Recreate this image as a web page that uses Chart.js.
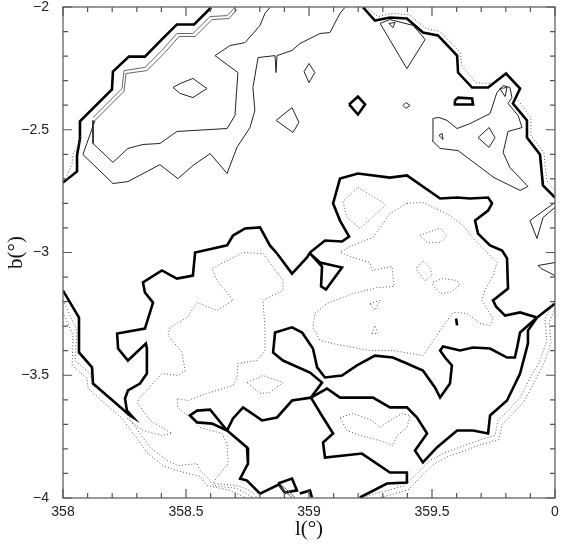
<!DOCTYPE html>
<html lang="en">
<head>
    <meta charset="UTF-8">
    <title>Contour map l-b</title>
    <script src="https://cdn.jsdelivr.net/npm/chart.js"></script>
    <style>
        body { margin: 0; background: #fff; }
        .container { width: 570px; height: 544px; }
    </style>
</head>
<body>
    <div class="container">
        <canvas id="contour-chart"></canvas>
    </div>

    <script>
        // axis ticks
        const xTickValues = [358, 358.5, 359, 359.5, 360];
        const xTickLabels = ['358', '358.5', '359', '359.5', '0'];
        const yTickValues = [-4, -3.5, -3, -2.5, -2];
        const yTickLabels = ['\u22124', '\u22123.5', '\u22123', '\u22122.5', '\u22122'];

        // contour paths, [l, b] in degrees
        // thick contours
        const edgeNorthWest = [[358.000,-2.715],[358.057,-2.670],[358.057,-2.605],[358.069,-2.536],[358.069,-2.466],[358.199,-2.336],[358.203,-2.263],[358.268,-2.202],[358.333,-2.202],[358.402,-2.132],[358.463,-2.071],[358.533,-2.071],[358.602,-2.002]];
        const edgeNorthEast = [[359.220,-2.002],[359.268,-2.055],[359.329,-2.043],[359.398,-2.047],[359.463,-2.104],[359.524,-2.116],[359.602,-2.198],[359.606,-2.267],[359.663,-2.328],[359.728,-2.328],[359.801,-2.271],[359.858,-2.332],[359.829,-2.393],[359.886,-2.462],[359.886,-2.532],[359.939,-2.601],[359.951,-2.727],[360.000,-2.776]];
        const thickDiamond = [[359.163,-2.397],[359.199,-2.365],[359.228,-2.397],[359.199,-2.438],[359.163,-2.397]];
        const thickBar = [[359.593,-2.381],[359.606,-2.369],[359.663,-2.373],[359.667,-2.397],[359.593,-2.397],[359.593,-2.381]];
        const mainRidge = [[358.000,-3.155],[358.065,-3.265],[358.065,-3.407],[358.118,-3.468],[358.122,-3.534],[358.272,-3.664],[358.285,-3.672],[358.260,-3.644],[358.252,-3.595],[358.264,-3.562],[358.313,-3.534],[358.341,-3.493],[358.341,-3.391],[358.337,-3.371],[358.264,-3.440],[358.224,-3.391],[358.220,-3.330],[358.333,-3.310],[358.366,-3.204],[358.333,-3.163],[358.325,-3.122],[358.402,-3.073],[358.463,-3.106],[358.528,-3.094],[358.537,-3.000],[358.610,-2.984],[358.667,-2.971],[358.691,-2.931],[358.740,-2.902],[358.801,-2.898],[358.841,-2.971],[358.870,-3.004],[358.931,-3.086],[358.992,-3.020],[359.004,-3.000],[359.065,-2.951],[359.134,-2.955],[359.163,-2.935],[359.126,-2.870],[359.098,-2.800],[359.126,-2.699],[359.199,-2.678],[359.329,-2.695],[359.398,-2.686],[359.533,-2.780],[359.602,-2.776],[359.654,-2.780],[359.728,-2.776],[359.744,-2.800],[359.728,-2.829],[359.675,-2.870],[359.687,-2.923],[359.736,-2.971],[359.785,-2.992],[359.805,-3.024],[359.809,-3.147],[359.748,-3.195],[359.760,-3.220],[359.797,-3.257],[359.858,-3.244],[359.927,-3.265]];
        const ridgeToEdge = [[359.927,-3.265],[360.000,-3.208]];
        const bayLine = [[359.927,-3.265],[359.890,-3.297],[359.858,-3.326],[359.846,-3.387],[359.837,-3.428],[359.805,-3.428],[359.736,-3.391],[359.667,-3.387],[359.614,-3.399],[359.545,-3.383],[359.533,-3.399],[359.553,-3.428],[359.581,-3.460],[359.573,-3.534],[359.533,-3.591],[359.512,-3.550],[359.463,-3.481],[359.398,-3.452],[359.341,-3.428],[359.268,-3.420],[359.195,-3.460],[359.134,-3.501],[359.065,-3.509],[359.033,-3.468],[359.016,-3.391],[358.972,-3.326],[358.931,-3.305],[358.862,-3.326],[358.854,-3.407],[358.894,-3.440],[359.004,-3.489],[359.053,-3.530],[359.008,-3.591]];
        const southLoop = [[359.008,-3.591],[359.073,-3.554],[359.126,-3.591],[359.260,-3.591],[359.329,-3.631],[359.398,-3.631],[359.439,-3.672],[359.480,-3.737],[359.431,-3.807],[359.463,-3.855],[359.520,-3.794],[359.602,-3.725],[359.667,-3.725],[359.728,-3.737],[359.736,-3.664],[359.805,-3.603],[359.858,-3.493],[359.890,-3.371],[359.890,-3.318],[359.927,-3.265]];
        const southBranch = [[359.008,-3.591],[359.057,-3.672],[359.098,-3.737],[359.057,-3.774],[359.065,-3.835],[359.215,-3.819],[359.329,-3.896],[359.398,-3.896],[359.398,-3.937],[359.317,-3.941],[359.207,-3.998]];
        const westBranch = [[359.008,-3.591],[358.931,-3.603],[358.870,-3.672],[358.809,-3.684],[358.732,-3.631],[358.691,-3.676],[358.667,-3.725],[358.748,-3.794],[358.752,-3.860],[358.720,-3.921],[358.748,-3.929],[358.801,-3.982],[358.870,-3.949],[358.882,-3.941]];
        const westLobe = [[358.667,-3.725],[358.598,-3.640],[358.545,-3.644],[358.516,-3.664],[358.545,-3.692],[358.606,-3.697],[358.667,-3.725]];
        const smallQuad = [[358.874,-3.941],[358.931,-3.921],[358.951,-3.969],[358.902,-3.978],[358.874,-3.941]];
        const smallHook = [[358.963,-3.982],[359.004,-3.969],[359.012,-3.998]];
        const notchV = [[359.004,-3.004],[359.045,-3.041],[359.134,-3.061],[359.069,-3.151],[359.049,-3.138],[359.053,-3.057],[359.004,-3.004]];
        const tinyTick = [[359.598,-3.269],[359.602,-3.297]];

        // thin solid contours
        const twinA = [[358.122,-2.450],[358.240,-2.332],[358.248,-2.259],[358.333,-2.246],[358.402,-2.177],[358.463,-2.108],[358.528,-2.108],[358.598,-2.039],[358.667,-2.035],[358.699,-2.002]];
        const twinB = [[358.130,-2.462],[358.248,-2.344],[358.256,-2.271],[358.341,-2.259],[358.411,-2.189],[358.472,-2.120],[358.537,-2.120],[358.606,-2.051],[358.675,-2.047],[358.707,-2.010]];
        const innerCloud = [[358.122,-2.462],[358.122,-2.556],[358.203,-2.633],[358.264,-2.576],[358.325,-2.560],[358.394,-2.556],[358.463,-2.507],[358.667,-2.495],[358.699,-2.442],[358.711,-2.267],[358.618,-2.198],[358.679,-2.157],[358.740,-2.145],[358.801,-2.075],[358.821,-2.026],[358.841,-2.002]];
        const outerCloud = [[358.130,-2.462],[358.081,-2.601],[358.203,-2.719],[358.264,-2.711],[358.394,-2.642],[358.467,-2.699],[358.528,-2.646],[358.598,-2.597],[358.667,-2.678],[358.707,-2.572],[358.760,-2.491],[358.780,-2.422],[358.772,-2.328],[358.793,-2.206],[358.862,-2.198],[358.866,-2.267],[358.870,-2.198],[358.931,-2.177],[358.963,-2.149],[359.045,-2.108],[359.085,-2.104],[359.126,-2.026],[359.146,-2.002]];
        const cloudCore = [[358.447,-2.328],[358.476,-2.312],[358.528,-2.291],[358.585,-2.332],[358.528,-2.369],[358.476,-2.352],[358.447,-2.328]];
        const thinDiamond = [[358.980,-2.263],[359.000,-2.230],[359.024,-2.267],[359.000,-2.308],[358.980,-2.263]];
        const thinQuad = [[358.866,-2.462],[358.931,-2.410],[358.959,-2.470],[358.935,-2.511],[358.866,-2.462]];
        const tinyDiamond = [[359.382,-2.401],[359.394,-2.389],[359.411,-2.401],[359.394,-2.413],[359.382,-2.401]];
        const northTriangle = [[359.289,-2.067],[359.329,-2.051],[359.423,-2.075],[359.472,-2.132],[359.398,-2.251],[359.289,-2.067]];
        const northSpeck = [[359.325,-2.067],[359.350,-2.063],[359.341,-2.084],[359.325,-2.067]];
        const eastCloud = [[359.504,-2.454],[359.528,-2.450],[359.561,-2.462],[359.602,-2.495],[359.654,-2.475],[359.736,-2.434],[359.764,-2.348],[359.789,-2.320],[359.817,-2.328],[359.825,-2.369],[359.809,-2.393],[359.850,-2.442],[359.866,-2.491],[359.809,-2.507],[359.789,-2.593],[359.817,-2.654],[359.890,-2.731],[359.858,-2.747],[359.752,-2.695],[359.675,-2.637],[359.606,-2.585],[359.533,-2.576],[359.500,-2.544],[359.504,-2.454]];
        const eastLoop = [[359.776,-2.332],[359.805,-2.328],[359.797,-2.365],[359.776,-2.332]];
        const eastDiamond = [[359.687,-2.532],[359.732,-2.491],[359.756,-2.532],[359.732,-2.572],[359.687,-2.532]];
        const eastSpeck = [[359.528,-2.523],[359.541,-2.515],[359.545,-2.540],[359.528,-2.523]];
        const edgeWedgeA = [[360.000,-2.796],[359.898,-2.870],[359.927,-2.943],[359.951,-2.858],[360.000,-2.816]];
        const edgeWedgeB = [[360.000,-3.041],[359.931,-3.053],[359.943,-3.065],[360.000,-3.094]];
        const quadTwinA = [[358.874,-3.949],[358.931,-3.998]];
        const quadTwinB = [[358.886,-3.945],[358.943,-3.998]];

        // dotted contours
        const dotNW = [[358.016,-2.686],[358.037,-2.637],[358.041,-2.597],[358.061,-2.572],[358.073,-2.523]];
        const dotNE1 = [[359.232,-2.002],[359.280,-2.039],[359.337,-2.026],[359.407,-2.031],[359.476,-2.088],[359.533,-2.100],[359.614,-2.185],[359.622,-2.242],[359.679,-2.308],[359.736,-2.312]];
        const dotNE2 = [[359.850,-2.381],[359.902,-2.450],[359.902,-2.523],[359.955,-2.593],[359.967,-2.707],[360.000,-2.747]];
        const dotWest = [[358.260,-3.676],[358.325,-3.725],[358.402,-3.745],[358.443,-3.737],[358.354,-3.684],[358.301,-3.611],[358.313,-3.591],[358.402,-3.493],[358.467,-3.501],[358.496,-3.481],[358.484,-3.407],[358.427,-3.338],[358.435,-3.305],[358.504,-3.265],[358.545,-3.204],[358.626,-3.236],[358.691,-3.195],[358.667,-3.163],[358.626,-3.114],[358.606,-3.065],[358.732,-3.000],[358.813,-3.004],[358.894,-3.114],[358.894,-3.155],[358.813,-3.195],[358.821,-3.305],[358.821,-3.399],[358.789,-3.440],[358.711,-3.452],[358.707,-3.509],[358.691,-3.542],[358.585,-3.574],[358.508,-3.603],[358.463,-3.595],[358.467,-3.631],[358.516,-3.672],[358.557,-3.713],[358.646,-3.737],[358.667,-3.778],[358.671,-3.860],[358.626,-3.916],[358.610,-3.941],[358.707,-3.949],[358.760,-3.969],[358.789,-3.998]];
        const dotRimSW1 = [[358.000,-3.195],[358.057,-3.318],[358.049,-3.440],[358.110,-3.493],[358.118,-3.534],[358.252,-3.652],[358.325,-3.754],[358.354,-3.794],[358.423,-3.847],[358.467,-3.868],[358.545,-3.860],[358.557,-3.888],[358.598,-3.929],[358.610,-3.949],[358.707,-3.961],[358.772,-3.998]];
        const dotRimSW2 = [[358.000,-3.244],[358.041,-3.338],[358.037,-3.460],[358.098,-3.513],[358.102,-3.554],[358.240,-3.676],[358.313,-3.774],[358.341,-3.815],[358.407,-3.868],[358.463,-3.888],[358.557,-3.912],[358.585,-3.949],[358.679,-3.969],[358.740,-3.998]];
        const dotRimSE1 = [[360.000,-3.195],[359.959,-3.269],[359.967,-3.358],[359.939,-3.440],[359.898,-3.513],[359.858,-3.591],[359.809,-3.644],[359.768,-3.684],[359.756,-3.745],[359.687,-3.766],[359.622,-3.790],[359.553,-3.815],[359.492,-3.847],[359.443,-3.896],[359.390,-3.949],[359.321,-3.969],[359.268,-3.982],[359.215,-3.998]];
        const dotRimSE2 = [[360.000,-3.228],[359.976,-3.285],[359.984,-3.367],[359.955,-3.452],[359.915,-3.530],[359.874,-3.607],[359.825,-3.660],[359.785,-3.700],[359.772,-3.762],[359.699,-3.782],[359.634,-3.807],[359.565,-3.831],[359.504,-3.864],[359.455,-3.912],[359.407,-3.965],[359.337,-3.986],[359.289,-3.998]];
        const dotPocket = [[359.199,-2.735],[359.301,-2.796],[359.309,-2.809],[359.207,-2.902],[359.154,-2.857],[359.138,-2.792],[359.199,-2.735]];
        const dotBasin = [[359.398,-2.800],[359.329,-2.841],[359.260,-2.939],[359.167,-2.975],[359.126,-3.000],[359.179,-3.020],[359.248,-3.041],[359.256,-3.073],[359.337,-3.057],[359.346,-3.138],[359.276,-3.143],[359.179,-3.167],[359.073,-3.208],[359.024,-3.248],[359.016,-3.305],[359.045,-3.358],[359.114,-3.375],[359.248,-3.399],[359.341,-3.399],[359.463,-3.420],[359.492,-3.379],[359.533,-3.318],[359.585,-3.244],[359.642,-3.248],[359.695,-3.289],[359.736,-3.297],[359.748,-3.269],[359.728,-3.236],[359.703,-3.195],[359.715,-3.155],[359.748,-3.094],[359.764,-3.041],[359.736,-3.012],[359.675,-2.951],[359.626,-2.890],[359.573,-2.849],[359.463,-2.796],[359.398,-2.800]];
        const dotHoleA = [[359.451,-2.931],[359.480,-2.919],[359.533,-2.902],[359.561,-2.931],[359.533,-2.959],[359.480,-2.959],[359.451,-2.931]];
        const dotHoleB = [[359.439,-3.061],[359.463,-3.033],[359.492,-3.061],[359.500,-3.094],[359.472,-3.114],[359.439,-3.073],[359.439,-3.061]];
        const dotHoleC = [[359.504,-3.122],[359.541,-3.106],[359.602,-3.114],[359.614,-3.134],[359.573,-3.163],[359.533,-3.167],[359.504,-3.134],[359.504,-3.122]];
        const dotHoleD = [[359.248,-3.208],[359.289,-3.195],[359.268,-3.236],[359.248,-3.208]];
        const dotHoleE = [[359.256,-3.330],[359.268,-3.297],[359.280,-3.330],[359.256,-3.330]];
        const dotSouth = [[359.126,-3.672],[359.179,-3.656],[359.256,-3.684],[359.289,-3.713],[359.329,-3.684],[359.378,-3.656],[359.411,-3.664],[359.398,-3.713],[359.358,-3.745],[359.341,-3.786],[359.289,-3.766],[359.207,-3.745],[359.154,-3.725],[359.126,-3.672]];
        const dotIsle = [[358.748,-3.530],[358.813,-3.501],[358.894,-3.530],[358.841,-3.570],[358.801,-3.574],[358.748,-3.530]];

        const thick = { borderColor: '#000', borderWidth: 2.6 };
        const thin = { borderColor: '#222', borderWidth: 1 };
        const twin = { borderColor: '#666', borderWidth: 1 };
        const dotted = { borderColor: '#555', borderWidth: 1, borderDash: [1, 2.2] };

        const paths = [
            [twinA, twin], [twinB, twin], [quadTwinA, twin], [quadTwinB, twin],
            [innerCloud, thin], [outerCloud, thin], [cloudCore, thin], [thinDiamond, thin],
            [thinQuad, thin], [tinyDiamond, thin], [northTriangle, thin], [northSpeck, thin],
            [eastCloud, thin], [eastLoop, thin], [eastDiamond, thin], [eastSpeck, thin],
            [edgeWedgeA, thin], [edgeWedgeB, thin],
            [dotNW, dotted], [dotNE1, dotted], [dotNE2, dotted], [dotWest, dotted],
            [dotRimSW1, dotted], [dotRimSW2, dotted], [dotRimSE1, dotted], [dotRimSE2, dotted],
            [dotPocket, dotted], [dotBasin, dotted], [dotHoleA, dotted], [dotHoleB, dotted],
            [dotHoleC, dotted], [dotHoleD, dotted], [dotHoleE, dotted], [dotSouth, dotted],
            [dotIsle, dotted],
            [edgeNorthWest, thick], [edgeNorthEast, thick], [thickDiamond, thick], [thickBar, thick],
            [mainRidge, thick], [ridgeToEdge, thick], [bayLine, thick], [southLoop, thick],
            [southBranch, thick], [westBranch, thick], [westLobe, thick], [smallQuad, thick],
            [smallHook, thick], [notchV, thick], [tinyTick, thick]
        ];

        const datasets = paths.map(([pts, style]) => ({
            data: pts.map(p => ({ x: p[0], y: p[1] })),
            showLine: true,
            pointRadius: 0,
            tension: 0,
            fill: false,
            ...style
        }));

        // frame, inward ticks and axis titles
        const frameTicks = {
            id: 'frameTicks',
            afterDatasetsDraw(chart) {
                const { ctx, chartArea: a, scales: { x, y } } = chart;
                ctx.save();
                ctx.strokeStyle = '#555';
                ctx.lineWidth = 1.2;
                ctx.strokeRect(a.left, a.top, a.right - a.left, a.bottom - a.top);
                ctx.beginPath();
                for (let i = 0; i <= 20; i++) {
                    const len = i % 5 === 0 ? 9 : 5;
                    const px = x.getPixelForValue(358 + i / 10);
                    ctx.moveTo(px, a.bottom); ctx.lineTo(px, a.bottom - len);
                    ctx.moveTo(px, a.top); ctx.lineTo(px, a.top + len);
                    const py = y.getPixelForValue(-4 + i / 10);
                    ctx.moveTo(a.left, py); ctx.lineTo(a.left + len, py);
                    ctx.moveTo(a.right, py); ctx.lineTo(a.right - len, py);
                }
                ctx.stroke();
                ctx.fillStyle = '#111';
                ctx.font = '21px "Liberation Serif"';
                ctx.textAlign = 'center';
                ctx.textBaseline = 'middle';
                ctx.fillText('l(\u00b0)', (a.left + a.right) / 2, 529);
                ctx.translate(16, (a.top + a.bottom) / 2);
                ctx.rotate(-Math.PI / 2);
                ctx.fillText('b(\u00b0)', 0, 0);
                ctx.restore();
            }
        };

        const tickFont = { family: '"Liberation Sans", Arial, sans-serif', size: 14 };

        new Chart(document.getElementById('contour-chart'), {
            type: 'scatter',
            data: { datasets },
            options: {
                responsive: true,
                maintainAspectRatio: false,
                animation: false,
                layout: { padding: { left: 0, top: 7, right: 15, bottom: 0 } },
                plugins: { legend: { display: false }, tooltip: { enabled: false } },
                scales: {
                    x: {
                        type: 'linear', min: 358, max: 360,
                        grid: { display: false }, border: { display: false },
                        afterBuildTicks: s => { s.ticks = xTickValues.map(v => ({ value: v })); },
                        afterFit: s => { s.height = 46; s.paddingLeft = 0; s.paddingRight = 0; },
                        ticks: {
                            padding: -2, color: '#222', font: tickFont, maxRotation: 0,
                            callback: (v) => xTickLabels[xTickValues.indexOf(v)]
                        }
                    },
                    y: {
                        type: 'linear', min: -4, max: -2,
                        grid: { display: false }, border: { display: false },
                        afterBuildTicks: s => { s.ticks = yTickValues.map(v => ({ value: v })); },
                        afterFit: s => { s.width = 63; s.paddingTop = 0; s.paddingBottom = 0; },
                        ticks: {
                            padding: 6, color: '#222', font: tickFont,
                            callback: (v) => yTickLabels[yTickValues.indexOf(v)]
                        }
                    }
                }
            },
            plugins: [frameTicks]
        });
    </script>
</body>
</html>
